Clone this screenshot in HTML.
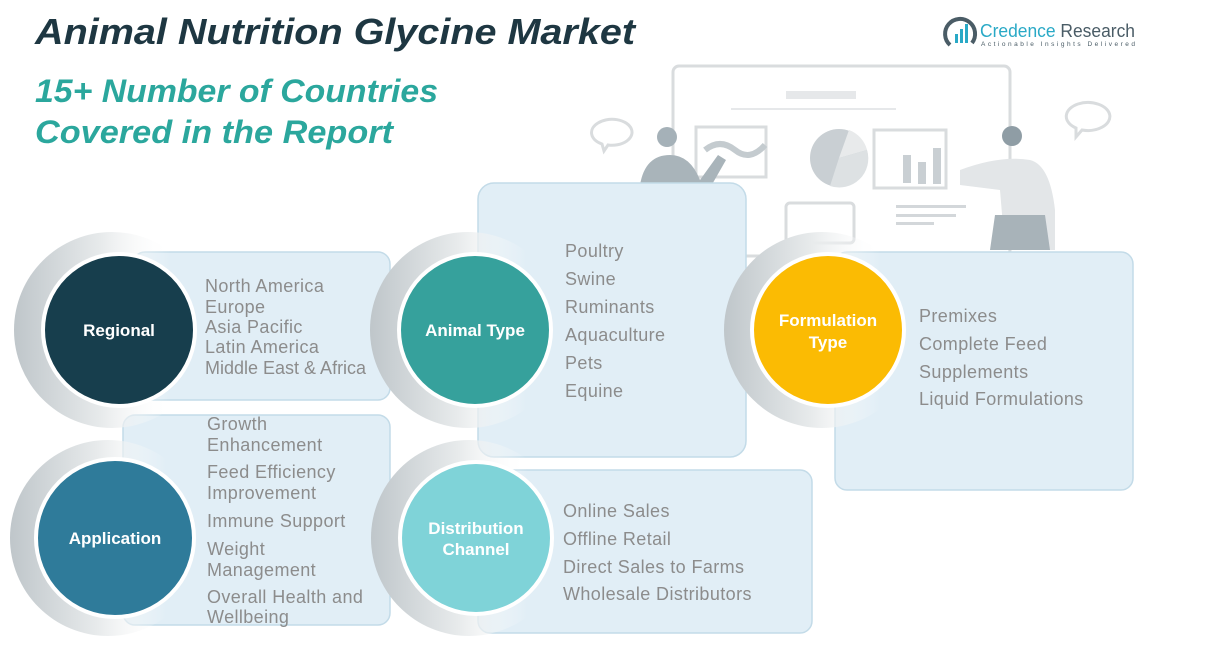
<!DOCTYPE html>
<html><head><meta charset="utf-8"><style>
body{margin:0;width:1218px;height:667px;background:#fff;overflow:hidden;font-family:"Liberation Sans",sans-serif}
svg{position:absolute;left:0;top:0}
</style></head><body>
<svg width="1218" height="667" viewBox="0 0 1218 667" font-family="Liberation Sans, sans-serif">
<defs>
<linearGradient id="ring" x1="0" y1="0" x2="1" y2="0">
<stop offset="0" stop-color="#bfc6ca"/><stop offset="0.45" stop-color="#e8ebec"/><stop offset="0.8" stop-color="#ffffff" stop-opacity="0"/>
</linearGradient>
</defs>
<g fill="none" stroke="#d9dcde" stroke-width="3">
<rect x="673" y="66" width="337" height="190" rx="6"/>
<rect x="696" y="127" width="70" height="50"/>
<rect x="874" y="130" width="72" height="58"/>
<rect x="786" y="203" width="68" height="40" rx="4"/>
<path d="M598 123 a20 13 0 1 1 10 22 l-4 6 l-2 -7 a20 13 0 0 1 -4 -21z"/>
<path d="M1078 104 a22 14 0 1 1 4 26 l-6 7 l0 -9 a22 14 0 0 1 2 -24z"/>
</g>
<rect x="786" y="91" width="70" height="8" fill="#e6e8ea"/>
<rect x="731" y="108" width="165" height="2" fill="#e6e8ea"/>
<circle cx="839" cy="158" r="29" fill="#c9cfd3"/>
<path d="M839 158 L849 130 A29 29 0 0 1 867 150Z" fill="#e8eaeb"/>
<path d="M839 158 L867 150 A29 29 0 0 1 830 186Z" fill="#dde1e3"/>
<rect x="903" y="155" width="8" height="28" fill="#c9cfd3"/><rect x="918" y="162" width="8" height="22" fill="#c9cfd3"/><rect x="933" y="148" width="8" height="36" fill="#c9cfd3"/>
<rect x="896" y="205" width="70" height="3" fill="#d3d7da"/><rect x="896" y="214" width="60" height="3" fill="#d3d7da"/><rect x="896" y="222" width="38" height="3" fill="#d3d7da"/>
<path d="M705 150 q15 -12 30 0 t30 -5" stroke="#c4cbcf" stroke-width="6" fill="none"/>
<circle cx="667" cy="137" r="10" fill="#a5b1b8"/>
<path d="M640 185 q5 -30 30 -30 q20 0 30 25 l18 -25 l8 5 l-20 35z" fill="#a9b4ba"/>
<circle cx="1012" cy="136" r="10" fill="#8f9da5"/>
<path d="M960 170 q40 -15 70 -10 q20 5 25 50 l0 40 h-50 l-5 -60 l-40 -5z" fill="#e3e6e8"/>
<path d="M995 215 h50 l5 35 h-60z" fill="#a8b3b9"/>
<text x="35" y="44" font-size="36" font-weight="bold" font-style="italic" fill="#1e3742" textLength="600" lengthAdjust="spacingAndGlyphs">Animal Nutrition Glycine Market</text>
<text x="35" y="102" font-size="32" font-weight="bold" font-style="italic" fill="#2ba79d" textLength="403" lengthAdjust="spacingAndGlyphs">15+ Number of Countries</text>
<text x="35" y="143" font-size="32" font-weight="bold" font-style="italic" fill="#2ba79d" textLength="358" lengthAdjust="spacingAndGlyphs">Covered in the Report</text>
<path d="M950 45 a15 15 0 1 1 22 -2" fill="none" stroke="#4a5c66" stroke-width="4"/>
<rect x="955" y="34" width="3" height="9" fill="#29a9c6"/><rect x="960" y="29" width="3" height="14" fill="#29a9c6"/><rect x="965" y="24" width="3" height="19" fill="#29a9c6"/>
<text x="980" y="37" font-size="18" fill="#29a9c6" textLength="155" lengthAdjust="spacingAndGlyphs">Credence <tspan fill="#4a5c66">Research</tspan></text>
<text x="981" y="46" font-size="6.5" fill="#4a5c66" textLength="154">Actionable Insights Delivered</text>
<g fill="#e1eef6" stroke="#c3dbe8" stroke-width="1.5">
<rect x="478" y="183" width="268" height="274" rx="16"/>
<rect x="133" y="252" width="257" height="148" rx="12"/>
<rect x="835" y="252" width="298" height="238" rx="12"/>
<rect x="123" y="415" width="267" height="210" rx="12"/>
<rect x="478" y="470" width="334" height="163" rx="12"/>
</g>
<g fill="url(#ring)">
<circle cx="112" cy="330" r="98"/>
<circle cx="468" cy="330" r="98"/>
<circle cx="822" cy="330" r="98"/>
<circle cx="108" cy="538" r="98"/>
<circle cx="469" cy="538" r="98"/>
</g>
<g stroke="#fff" stroke-width="4">
<circle cx="119" cy="330" r="76" fill="#173e4d"/>
<circle cx="475" cy="330" r="76" fill="#36a19c"/>
<circle cx="828" cy="330" r="76" fill="#fbbb03"/>
<circle cx="115" cy="538" r="79" fill="#2f7b9a"/>
<circle cx="476" cy="538" r="76" fill="#7fd3d8"/>
</g>
<g font-size="17" font-weight="bold" fill="#fff" text-anchor="middle">
<text x="119" y="336">Regional</text>
<text x="475" y="336">Animal Type</text>
<text x="828" y="326">Formulation</text><text x="828" y="348">Type</text>
<text x="115" y="544">Application</text>
<text x="476" y="534">Distribution</text><text x="476" y="555">Channel</text>
</g>
<g font-size="18" fill="#8c8c8c" letter-spacing="0.4">
<text x="205" y="292">North America</text><text x="205" y="313">Europe</text><text x="205" y="333">Asia Pacific</text><text x="205" y="353">Latin America</text><text x="205" y="374" letter-spacing="0">Middle East &amp; Africa</text>
<text x="565" y="257">Poultry</text><text x="565" y="285">Swine</text><text x="565" y="313">Ruminants</text><text x="565" y="341">Aquaculture</text><text x="565" y="369">Pets</text><text x="565" y="397">Equine</text>
<text x="919" y="322">Premixes</text><text x="919" y="350">Complete Feed</text><text x="919" y="378">Supplements</text><text x="919" y="405">Liquid Formulations</text>
<text x="207" y="430">Growth</text><text x="207" y="451">Enhancement</text><text x="207" y="478">Feed Efficiency</text><text x="207" y="499">Improvement</text><text x="207" y="527">Immune Support</text><text x="207" y="555">Weight</text><text x="207" y="576">Management</text><text x="207" y="603">Overall Health and</text><text x="207" y="623">Wellbeing</text>
<text x="563" y="517">Online Sales</text><text x="563" y="545">Offline Retail</text><text x="563" y="573">Direct Sales to Farms</text><text x="563" y="600">Wholesale Distributors</text>
</g>
</svg>
</body></html>
